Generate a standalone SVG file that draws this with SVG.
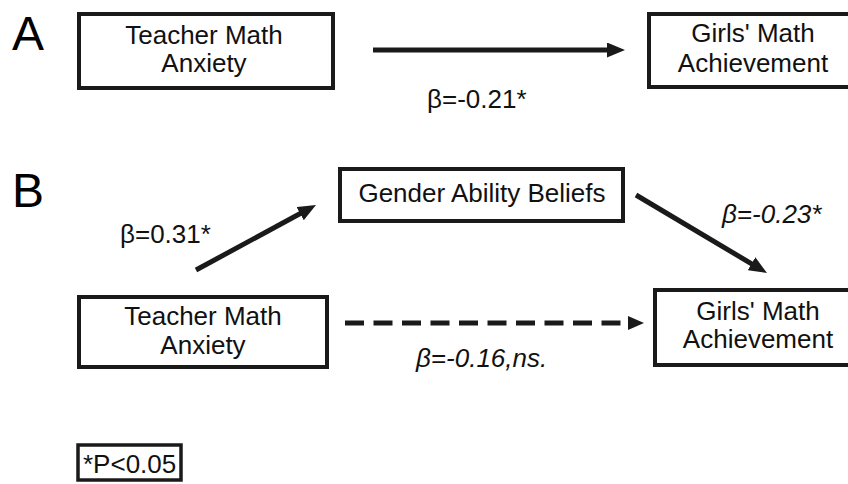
<svg xmlns="http://www.w3.org/2000/svg" width="848" height="484" viewBox="0 0 848 484">
<style>
  .box { fill: #ffffff; stroke: #1a1a1a; stroke-width: 4; }
  .t { font-family: "Liberation Sans", Arial, sans-serif; font-size: 26px; fill: #111111; }
  .c { text-anchor: middle; }
  .i { font-style: italic; }
  .panel { font-family: "Liberation Sans", Arial, sans-serif; font-size: 48px; fill: #000000; }
  .line { stroke: #1a1a1a; stroke-width: 5; fill: none; }
  .dash { stroke-dasharray: 19 9.5; }
</style>
<defs>
  <marker id="ah" markerUnits="userSpaceOnUse" markerWidth="20" markerHeight="16" refX="8" refY="7.5" orient="auto">
    <path d="M0,0 L18,7.5 L0,15 z" fill="#1a1a1a"/>
  </marker>
  <marker id="ahs" markerUnits="userSpaceOnUse" markerWidth="17" markerHeight="15" refX="5" refY="7" orient="auto">
    <path d="M0,0 L16,7 L0,14 z" fill="#1a1a1a"/>
  </marker>
</defs>
<rect width="848" height="484" fill="#ffffff"/>
<text class="panel" x="12" y="50">A</text>
<text class="panel" x="12" y="207">B</text>

<g id="connectors">
  <line class="line" x1="373" y1="50" x2="615" y2="50" marker-end="url(#ah)"/>
  <line class="line" x1="196" y1="270" x2="307.2" y2="209.8" marker-end="url(#ah)"/>
  <line class="line" x1="636" y1="195" x2="758.4" y2="267.9" marker-end="url(#ah)"/>
  <line class="line dash" x1="345" y1="323" x2="633" y2="323" marker-end="url(#ahs)"/>
  <text class="t" x="427" y="108">β=-0.21*</text>
  <text class="t" x="120" y="243">β=0.31*</text>
  <text class="t i" x="722" y="223">β=-0.23*</text>
  <text class="t i" x="416" y="367">β=-0.16,ns.</text>
</g>

<g id="a-teacher">
  <rect class="box" x="79" y="14" width="254" height="74"/>
  <text class="t c" x="204" y="44">Teacher Math</text>
  <text class="t c" x="204" y="72">Anxiety</text>
</g>
<g id="a-girls">
  <rect class="box" x="649" y="14" width="210" height="73"/>
  <text class="t c" x="753" y="42">Girls' Math</text>
  <text class="t c" x="753" y="72">Achievement</text>
</g>
<g id="b-gender">
  <rect class="box" x="340" y="169" width="283" height="52"/>
  <text class="t c" x="482" y="202">Gender Ability Beliefs</text>
</g>
<g id="b-teacher">
  <rect class="box" x="79" y="297" width="248" height="70"/>
  <text class="t c" x="203" y="325">Teacher Math</text>
  <text class="t c" x="203" y="354">Anxiety</text>
</g>
<g id="b-girls">
  <rect class="box" x="655" y="290" width="206" height="75"/>
  <text class="t c" x="758" y="320">Girls' Math</text>
  <text class="t c" x="758" y="348">Achievement</text>
</g>
<g id="footnote">
  <rect class="box" x="78" y="445" width="103" height="35" style="stroke-width:3.5"/>
  <text class="t" x="83" y="473">*P&lt;0.05</text>
</g>
</svg>
